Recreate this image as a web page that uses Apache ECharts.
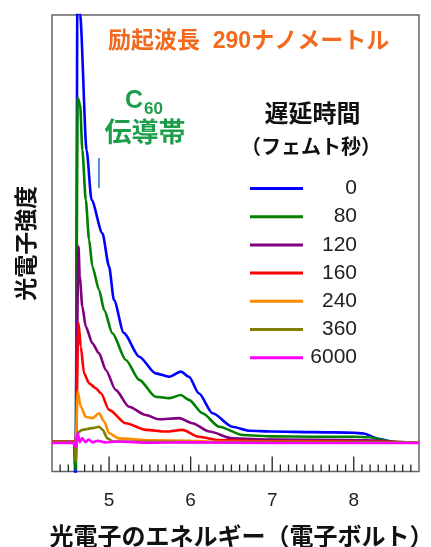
<!DOCTYPE html>
<html>
<head>
<meta charset="utf-8">
<script src="https://cdn.jsdelivr.net/npm/echarts@6/dist/echarts.min.js"></script>
<style>
  html, body { margin: 0; padding: 0; background: #fff; }
  #chart { width: 431px; height: 547px; }
</style>
</head>
<body>
<div id="chart"></div>
<script>
// Time-resolved photoelectron spectra of C60 (pump 290 nm)
const FONT = '"Liberation Sans", "Noto Sans CJK JP", sans-serif';

const delays = ['0', '80', '120', '160', '240', '360', '6000'];
const lineColors = ['#0000ff', '#008000', '#800080', '#ff0000', '#ff8c00', '#808000', '#ff00ff'];
const energyRange = [4.3, 8.8];
const intensityRange = [-10, 150];

// [photoelectron energy (eV), intensity (arb. units)]
const spec0 = [[4.30,0.3],[4.57,0.3],[4.59,-14],[4.615,180],[4.645,150],[4.724,102.7],[4.785,85.2],[4.918,73.5],[5.00,61.8],[5.06,50.1],[5.18,38.6],[5.37,30.2],[5.57,24.4],[5.74,23.2],[5.88,25.0],[5.98,23.2],[6.10,17.4],[6.27,10.4],[6.51,5.7],[6.72,4.3],[7.0,4.0],[7.5,3.8],[8.0,3.6],[8.12,3.3],[8.3,1.5],[8.5,0.3],[8.8,0.2]];
const spec80 = [[4.30,0.3],[4.575,0.3],[4.59,-9.5],[4.615,121],[4.645,118.5],[4.672,102.7],[4.714,85.2],[4.755,71.2],[4.795,61.8],[4.877,53.6],[4.94,46.6],[5.04,38.5],[5.205,29.1],[5.37,22.1],[5.57,16.2],[5.74,15.7],[5.88,16.8],[5.98,15.1],[6.145,10.4],[6.35,5.7],[6.64,2.8],[7.0,2.3],[7.5,2.2],[8.0,2.2],[8.2,2.0],[8.4,0.8],[8.55,0.2],[8.8,0.2]];
const spec120 = [[4.30,0.5],[4.575,0.5],[4.59,-3],[4.625,68.8],[4.64,58.3],[4.672,47.8],[4.714,40.8],[4.795,34.9],[4.877,31.4],[4.96,25.6],[5.08,18.6],[5.245,12.7],[5.45,9.8],[5.61,8.3],[5.86,8.7],[6.02,6.9],[6.23,4.0],[6.51,1.6],[7.0,1.2],[8.0,1.0],[8.3,0.8],[8.5,0.3],[8.8,0.2]];
const spec160 = [[4.30,0.4],[4.575,0.4],[4.59,-2],[4.625,42],[4.653,33.8],[4.693,24.4],[4.755,20.9],[4.837,19.2],[4.90,17.4],[5.0,11.6],[5.205,6.9],[5.45,4.6],[5.70,4.0],[5.90,4.6],[6.10,2.2],[6.35,1.0],[7.0,0.6],[8.0,0.5],[8.8,0.2]];
const spec240 = [[4.30,0.3],[4.575,0.3],[4.59,-2],[4.615,18],[4.653,12.7],[4.714,9.2],[4.795,8.7],[4.877,10.4],[4.94,7.5],[5.0,3.4],[5.12,1.6],[5.5,0.9],[6.0,0.8],[6.3,0.4],[8.8,0.2]];
const spec360 = [[4.30,0.3],[4.575,0.3],[4.59,-6.5],[4.61,3.4],[4.67,4.6],[4.795,5.2],[4.877,5.7],[4.92,4.6],[4.98,1.6],[5.05,0.5],[6.0,0.3],[8.8,0.2]];
const spec6000 = [[4.30,0.0],[4.575,0.1],[4.59,-1.5],[4.615,3.5],[4.64,0.3],[4.67,1.7],[4.71,0.3],[4.75,1.2],[4.80,0.2],[4.86,0.8],[4.95,0.2],[5.1,0.5],[5.5,0.1],[6.0,0.2],[7.0,0.0],[8.8,0.0]];
const spectra = [spec0, spec80, spec120, spec160, spec240, spec360, spec6000];

// Energy of the C60 conduction band marker and its vertical extent
const cbEnergy = 4.877;
const cbRange = [89.4, 99.9];

// Tick marks along the bottom frame: long at every eV, short at every 0.1 eV
const tickEnergies = [];
const tickIsMajor = [];
for (let k = Math.round(energyRange[0] * 10) + 1; k < Math.round(energyRange[1] * 10); k++) {
  tickEnergies.push(k / 10);
  tickIsMajor.push(k % 10 === 0);
}

const chart = echarts.init(document.getElementById('chart'), null, { renderer: 'canvas' });

const series = delays.map((d, i) => ({
  name: d,
  type: 'line',
  data: spectra[i],
  showSymbol: false,
  symbol: 'none',
  clip: true,
  smooth: 0.25,
  smoothMonotone: 'x',
  lineStyle: { color: lineColors[i], width: 2.6 },
  itemStyle: { color: lineColors[i] },
  emphasis: { disabled: true },
  z: 2 + i
}));

series[0].markLine = {
  silent: true,
  symbol: ['none', 'none'],
  label: { show: false },
  lineStyle: { color: '#5b8fd6', width: 2, type: 'solid' },
  data: [[{ coord: [cbEnergy, cbRange[0]] }, { coord: [cbEnergy, cbRange[1]] }]]
};

series.push({
  name: 'ticks',
  type: 'custom',
  silent: true,
  clip: false,
  z: 1,
  data: tickEnergies.map(e => [e, intensityRange[0]]),
  renderItem: (params, api) => {
    const p = api.coord([api.value(0), intensityRange[0]]);
    const len = tickIsMajor[params.dataIndex] ? 15 : 7;
    return {
      type: 'line',
      shape: { x1: p[0], y1: p[1], x2: p[0], y2: p[1] - len },
      style: { stroke: '#222', lineWidth: 1.3 }
    };
  }
});

const option = {
  animation: false,
  backgroundColor: '#fff',
  grid: {
    left: 52, right: 12, top: 15, bottom: 75.5,
    show: true, borderColor: '#666', borderWidth: 1.5,
    outerBoundsMode: 'none'
  },
  xAxis: {
    type: 'value', min: energyRange[0], max: energyRange[1],
    name: '光電子のエネルギー（電子ボルト）',
    nameLocation: 'middle', nameGap: 55,
    nameTextStyle: { fontFamily: FONT, fontSize: 24, fontWeight: 'bold', color: '#111', padding: [0, 0, 0, 12] },
    axisLine: { show: false, onZero: false },
    axisTick: { show: false },
    axisLabel: {
      margin: 20, fontSize: 19, color: '#222', fontFamily: FONT,
      showMinLabel: false, showMaxLabel: false,
      formatter: v => (Math.abs(v - Math.round(v)) < 1e-6 ? String(Math.round(v)) : '')
    },
    splitLine: { show: false }
  },
  yAxis: {
    type: 'value', min: intensityRange[0], max: intensityRange[1],
    name: '光電子強度', nameLocation: 'middle', nameGap: 12.5, nameRotate: 90,
    nameTextStyle: { fontFamily: FONT, fontSize: 23, fontWeight: 'bold', color: '#111' },
    axisLine: { show: false, onZero: false }, axisTick: { show: false }, axisLabel: { show: false },
    splitLine: { show: false }
  },
  legend: {
    data: delays,
    orient: 'vertical',
    left: 250, top: 178,
    padding: 0,
    itemWidth: 53, itemHeight: 3, itemGap: 7.2,
    icon: 'rect',
    selectedMode: false,
    formatter: name => '{n|' + name + '}',
    textStyle: {
      rich: { n: { width: 49, align: 'right', fontSize: 21, lineHeight: 21, fontFamily: FONT, color: '#222' } }
    }
  },
  graphic: [
    { type: 'text', x: 108, y: 41.5, z: 10,
      style: { text: '励起波長  290ナノメートル', fill: '#f26a1e', font: 'bold 23px ' + FONT, verticalAlign: 'middle' } },
    { type: 'text', x: 125, y: 101, z: 10,
      style: { text: 'C', fill: '#1e9e4a', font: 'bold 25px ' + FONT, verticalAlign: 'middle' } },
    { type: 'text', x: 144, y: 109.5, z: 10,
      style: { text: '60', fill: '#1e9e4a', font: 'bold 17px ' + FONT, verticalAlign: 'middle' } },
    { type: 'text', x: 145, y: 134.5, z: 10,
      style: { text: '伝導帯', fill: '#1e9e4a', font: 'bold 27px ' + FONT, align: 'center', verticalAlign: 'middle' } },
    { type: 'text', x: 312.5, y: 115, z: 10,
      style: { text: '遅延時間', fill: '#111', font: 'bold 24px ' + FONT, align: 'center', verticalAlign: 'middle' } },
    { type: 'text', x: 311, y: 148.5, z: 10,
      style: { text: '（フェムト秒）', fill: '#111', font: 'bold 20px ' + FONT, align: 'center', verticalAlign: 'middle' } }
  ],
  series: series
};

chart.setOption(option);
</script>
</body>
</html>
